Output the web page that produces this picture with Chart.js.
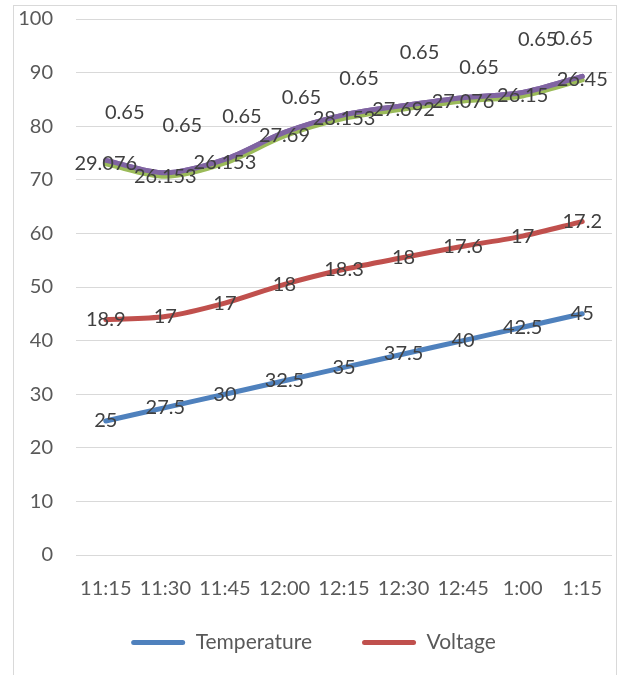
<!DOCTYPE html>
<html><head><meta charset="utf-8">
<script src="https://cdn.jsdelivr.net/npm/chart.js@4"></script>
<style>
html,body{margin:0;padding:0;background:#fff;overflow:hidden}
#frame{position:absolute;left:13px;top:5px;width:602px;height:700px;border:1px solid #d9d9d9;border-bottom:none}
#wrap{position:absolute;left:0;top:0;width:621px;height:675px}
</style></head>
<body>
<div id="frame"></div>
<div id="wrap"><canvas id="c"></canvas></div>
<script>
// ---- data ----
const categories = ['11:15','11:30','11:45','12:00','12:15','12:30','12:45','1:00','1:15'];
const temperature = [25, 27.5, 30, 32.5, 35, 37.5, 40, 42.5, 45];
const voltage = [18.9, 17, 17, 18, 18.3, 18, 17.6, 17, 17.2];
const series3 = [29.076, 26.153, 26.153, 27.69, 28.153, 27.692, 27.076, 26.15, 26.45];
const series4 = [0.65, 0.65, 0.65, 0.65, 0.65, 0.65, 0.65, 0.65, 0.65];
const yMin = 0, yMax = 100, yStep = 10;

// ---- label placement (style) for the 4th series ----
const labelDx = [19, 17, 17, 17, 15, 16, 16, 15, -9];
const labelDy = [-48, -47, -43, -35, -36, -53, -30, -53, -38];

const FONT = 'Lato';
Chart.defaults.font.family = FONT;

const valueLabels = {
  id: 'valueLabels',
  afterDatasetsDraw(chart) {
    // series 4 sits visually on top of series 3
    const top = chart.getDatasetMeta(3);
    if (top && top.controller) top.controller.draw();
    const ctx = chart.ctx;
    ctx.save();
    ctx.font = '20px ' + FONT;
    ctx.fillStyle = '#404040';
    ctx.textAlign = 'center';
    ctx.textBaseline = 'middle';
    chart.data.datasets.forEach((ds, i) => {
      const meta = chart.getDatasetMeta(i);
      meta.data.forEach((pt, j) => {
        let dx = 0, dy = 0;
        if (ds.labelShift) { dx = ds.labelShift.dx[j]; dy = ds.labelShift.dy[j]; }
        ctx.fillText(String(ds.data[j]), pt.x + dx, pt.y + dy);
      });
    });
    ctx.restore();
  }
};

function line(label, data, color, extra) {
  return Object.assign({
    label, data,
    borderColor: color, backgroundColor: color,
    borderWidth: 5, pointRadius: 0, pointHoverRadius: 0,
    tension: 0.3, fill: false, borderCapStyle: 'round', borderJoinStyle: 'round'
  }, extra || {});
}

function noLabelClip(s) { s._computeLabelArea = () => undefined; }

new Chart(document.getElementById('c'), {
  type: 'line',
  data: {
    labels: categories,
    datasets: [
      line('Temperature', temperature, '#4F81BD'),
      line('Voltage', voltage, '#C0504D'),
      line('Series 3', series3, '#9BBB59'),
      line('Series 4', series4, '#8064A2', {labelShift: {dx: labelDx, dy: labelDy}})
    ]
  },
  options: {
    responsive: true,
    maintainAspectRatio: false,
    animation: false,
    events: [],
    layout: {padding: {left: 15, right: 9, top: 19, bottom: 12}},
    scales: {
      x: {
        offset: true,
        grid: {display: false, drawTicks: false, offset: true},
        border: {display: false},
        ticks: {color: '#595959', font: {size: 20}, padding: 22, maxRotation: 0, autoSkip: false},
        afterFit(s) { s.height = 27; s.paddingLeft = 0; s.paddingRight = 0; noLabelClip(s); }
      },
      y: {
        stacked: true,
        min: yMin, max: yMax,
        grid: {color: '#d9d9d9', lineWidth: 1, drawTicks: false},
        border: {display: false},
        ticks: {stepSize: yStep, color: '#595959', font: {size: 20}, padding: 23},
        afterFit(s) { s.width = 61; s.paddingTop = 0; s.paddingBottom = 0; noLabelClip(s); }
      }
    },
    plugins: {
      tooltip: {enabled: false},
      legend: {
        position: 'bottom',
        labels: {
          color: '#595959',
          font: {size: 21},
          boxWidth: 54,
          boxHeight: 5,
          useBorderRadius: true,
          borderRadius: 2.5,
          padding: 50,
          filter: (item) => item.datasetIndex < 2,
          generateLabels(chart) {
            const items = Chart.defaults.plugins.legend.labels.generateLabels(chart);
            items.forEach(it => { it.lineWidth = 0; });
            return items;
          }
        }
      }
    }
  },
  plugins: [valueLabels]
});
</script>
</body></html>
